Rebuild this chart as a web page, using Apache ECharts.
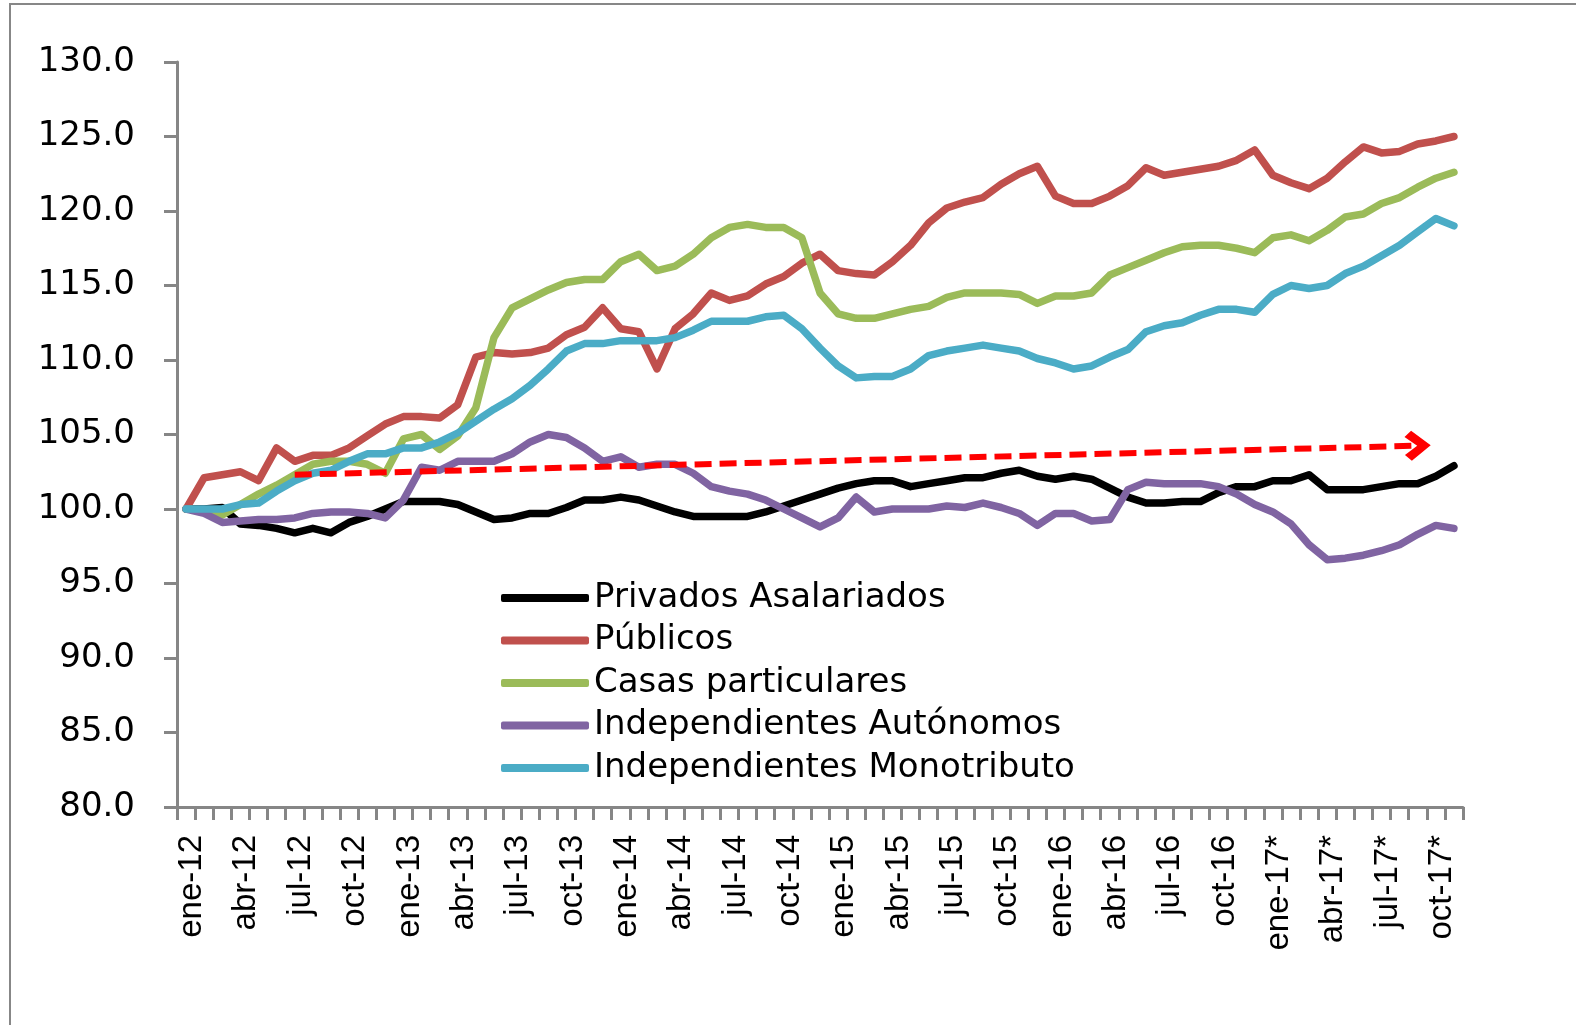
<!DOCTYPE html>
<html>
<head>
<meta charset="utf-8">
<script src="https://cdn.jsdelivr.net/npm/echarts@6/dist/echarts.min.js"></script>
<style>
  html, body { margin: 0; padding: 0; background: #fff; }
  #chart { width: 1576px; height: 1025px; }
</style>
</head>
<body>
<div id="chart"></div>
<script>
// meses ene-12 .. nov-17 (2017 con asterisco)
const mesesNombre = ['ene', 'feb', 'mar', 'abr', 'may', 'jun', 'jul', 'ago', 'sep', 'oct', 'nov', 'dic']
const anios = ['12', '13', '14', '15', '16', '17*']
const meses = []
anios.forEach(a => mesesNombre.forEach(m => meses.push(m + '-' + a)))
meses.length = 71

const privados = [100.0, 100.0, 100.1, 99.0, 98.9, 98.7, 98.4, 98.7, 98.4, 99.1, 99.5, 100.0,
	100.5, 100.5, 100.5, 100.3, 99.8, 99.3, 99.4, 99.7, 99.7, 100.1, 100.6, 100.6,
	100.8, 100.6, 100.2, 99.8, 99.5, 99.5, 99.5, 99.5, 99.8, 100.2, 100.6, 101.0,
	101.4, 101.7, 101.9, 101.9, 101.5, 101.7, 101.9, 102.1, 102.1, 102.4, 102.6, 102.2,
	102.0, 102.2, 102.0, 101.4, 100.8, 100.4, 100.4, 100.5, 100.5, 101.1, 101.5, 101.5,
	101.9, 101.9, 102.3, 101.3, 101.3, 101.3, 101.5, 101.7, 101.7, 102.2, 102.9]

const publicos = [100.0, 102.1, 102.3, 102.5, 101.9, 104.1, 103.2, 103.6, 103.6, 104.1, 104.9, 105.7,
	106.2, 106.2, 106.1, 107.0, 110.2, 110.5, 110.4, 110.5, 110.8, 111.7, 112.2, 113.5,
	112.1, 111.9, 109.4, 112.1, 113.1, 114.5, 114.0, 114.3, 115.1, 115.6, 116.5, 117.1,
	116.0, 115.8, 115.7, 116.6, 117.7, 119.2, 120.2, 120.6, 120.9, 121.8, 122.5, 123.0,
	121.0, 120.5, 120.5, 121.0, 121.7, 122.9, 122.4, 122.6, 122.8, 123.0, 123.4, 124.1,
	122.4, 121.9, 121.5, 122.2, 123.3, 124.3, 123.9, 124.0, 124.5, 124.7, 125.0]

const casas = [100.0, 99.9, 99.6, 100.3, 101.0, 101.6, 102.3, 103.0, 103.2, 103.2, 103.0, 102.4,
	104.7, 105.0, 104.0, 104.9, 106.8, 111.5, 113.5, 114.1, 114.7, 115.2, 115.4, 115.4,
	116.6, 117.1, 116.0, 116.3, 117.1, 118.2, 118.9, 119.1, 118.9, 118.9, 118.2, 114.5,
	113.1, 112.8, 112.8, 113.1, 113.4, 113.6, 114.2, 114.5, 114.5, 114.5, 114.4, 113.8,
	114.3, 114.3, 114.5, 115.7, 116.2, 116.7, 117.2, 117.6, 117.7, 117.7, 117.5, 117.2,
	118.2, 118.4, 118.0, 118.7, 119.6, 119.8, 120.5, 120.9, 121.6, 122.2, 122.6]

const autonomos = [100.0, 99.7, 99.1, 99.2, 99.3, 99.3, 99.4, 99.7, 99.8, 99.8, 99.7, 99.4,
	100.6, 102.8, 102.6, 103.2, 103.2, 103.2, 103.7, 104.5, 105.0, 104.8, 104.1, 103.2,
	103.5, 102.8, 103.0, 103.0, 102.4, 101.5, 101.2, 101.0, 100.6, 100.0, 99.4, 98.8,
	99.4, 100.8, 99.8, 100.0, 100.0, 100.0, 100.2, 100.1, 100.4, 100.1, 99.7, 98.9,
	99.7, 99.7, 99.2, 99.3, 101.3, 101.8, 101.7, 101.7, 101.7, 101.5, 101.0, 100.3,
	99.8, 99.0, 97.6, 96.6, 96.7, 96.9, 97.2, 97.6, 98.3, 98.9, 98.7]

const monotributo = [100.0, 100.0, 100.0, 100.3, 100.4, 101.2, 101.9, 102.4, 102.6, 103.2, 103.7, 103.7,
	104.1, 104.1, 104.5, 105.1, 105.9, 106.7, 107.4, 108.3, 109.4, 110.6, 111.1, 111.1,
	111.3, 111.3, 111.3, 111.5, 112.0, 112.6, 112.6, 112.6, 112.9, 113.0, 112.1, 110.8,
	109.6, 108.8, 108.9, 108.9, 109.4, 110.3, 110.6, 110.8, 111.0, 110.8, 110.6, 110.1,
	109.8, 109.4, 109.6, 110.2, 110.7, 111.9, 112.3, 112.5, 113.0, 113.4, 113.4, 113.2,
	114.4, 115.0, 114.8, 115.0, 115.8, 116.3, 117.0, 117.7, 118.6, 119.5, 119.0]

// flecha de tendencia (inicio / fin)
const tendencia = [['jul-12', 102.3], ['sep-17*', 104.25]]

const nombres = ['Privados Asalariados', 'Públicos', 'Casas particulares', 'Independientes Autónomos', 'Independientes Monotributo']
const colores = ['#000000', '#C0504D', '#9BBB59', '#8064A2', '#4BACC6']
const valores = [privados, publicos, casas, autonomos, monotributo]

const chart = echarts.init(document.getElementById('chart'))

const series = nombres.map((n, i) => ({
	name: n,
	type: 'line',
	data: valores[i],
	symbol: 'none',
	lineStyle: { color: colores[i], width: 7.5, cap: 'round', join: 'round' },
	itemStyle: { color: colores[i] },
	emphasis: { disabled: true }
}))

series[0].markLine = {
	silent: true,
	symbol: ['none', 'path://M50,0 L100,74 L80,100 L50,52 L20,100 L0,74 Z'],
	symbolSize: [30, 26],
	label: { show: false },
	lineStyle: { color: '#FF0000', width: 6, type: [17, 8] },
	data: [[{ coord: tendencia[0] }, { coord: tendencia[1] }]]
}

const option = {
	animation: false,
	backgroundColor: '#ffffff',
	graphic: [{
		type: 'rect',
		silent: true,
		z: -10,
		shape: { x: 10, y: 4, width: 1700, height: 1200 },
		style: { fill: 'none', stroke: '#878787', lineWidth: 2 }
	}],
	grid: { left: 177, top: 62, width: 1286, height: 745 },
	legend: {
		data: nombres,
		orient: 'vertical',
		left: 496,
		top: 576,
		icon: 'roundRect',
		itemWidth: 88,
		itemHeight: 8,
		itemGap: 8.5,
		textStyle: {
			fontFamily: 'DejaVu Sans',
			fontSize: 34,
			lineHeight: 31,
			color: '#000'
		}
	},
	xAxis: {
		type: 'category',
		data: meses,
		boundaryGap: true,
		axisLine: { lineStyle: { color: '#868686', width: 3 } },
		axisTick: { show: true, interval: 0, length: 13, lineStyle: { color: '#868686', width: 3 } },
		axisLabel: {
			interval: 2,
			rotate: 90,
			margin: 28,
			verticalAlign: 'top',
			lineHeight: 12,
			fontFamily: 'Liberation Sans',
			fontSize: 33,
			color: '#000'
		},
		splitLine: { show: false }
	},
	yAxis: {
		type: 'value',
		min: 80,
		max: 130,
		interval: 5,
		axisLine: { show: true, lineStyle: { color: '#868686', width: 3 } },
		axisTick: { show: true, length: 13, lineStyle: { color: '#868686', width: 3 } },
		axisLabel: {
			formatter: v => v.toFixed(1),
			margin: 42,
			fontFamily: 'DejaVu Sans',
			fontSize: 34,
			color: '#000'
		},
		splitLine: { show: false }
	},
	series: series
}

chart.setOption(option)
</script>
</body>
</html>
